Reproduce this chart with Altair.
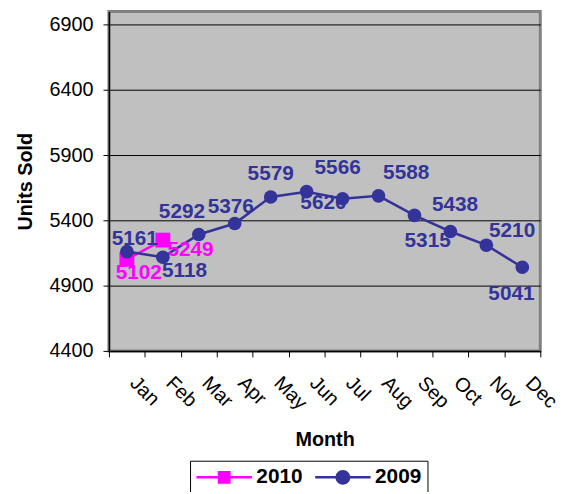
import altair as alt
import pandas as pd

months = ["Jan", "Feb", "Mar", "Apr", "May", "Jun", "Jul", "Aug", "Sep", "Oct", "Nov", "Dec"]
sales_2009 = [5161, 5118, 5292, 5376, 5579, 5620, 5566, 5588, 5438, 5315, 5210, 5041]
sales_2010 = [5102, 5249]
series = ["2010", "2009"]
series_colors = ["#FF00FF", "#333399"]
y_ticks = [4400, 4900, 5400, 5900, 6400, 6900]

# label placement (pixel offsets of each data label from its point) - styling only
offsets_2009 = [(8, -13), (22, 14), (-17, -23), (-4, -17), (0, -23), (17, 11),
                (-5, -31), (28, -23), (41, -10), (-23, 10), (26, -14), (-11, 27)]
offsets_2010 = [(12, 14), (28, 10)]

rows = []
for m, v in zip(months, sales_2010):
    rows.append({"month": m, "year": "2010", "value": v})
for m, v in zip(months, sales_2009):
    rows.append({"month": m, "year": "2009", "value": v})
df = pd.DataFrame(rows)

FONT = "Liberation Sans"

x_enc = alt.X(
    "month:N",
    sort=months,
    scale=alt.Scale(type="band", domain=months, paddingInner=0, paddingOuter=0),
    axis=alt.Axis(
        title="Month",
        labelAngle=45,
        labelAlign="left",
        labelBaseline="middle",
        labelPadding=23,
        labelOffset=6,
        tickBand="extent",
        titlePadding=17,
    ),
)
y_enc = alt.Y(
    "value:Q",
    scale=alt.Scale(domain=[4400, 7000], nice=False, zero=False),
    axis=alt.Axis(title="Units Sold", values=y_ticks, format="d", grid=True, gridColor="black",
                  gridWidth=1, labelPadding=10, titlePadding=14),
)

# legend glyphs: a line segment with the series marker (filled paths);
# the nominal symbol box is 20px (2 units), the glyph extends to the right over labelOffset
sq_path = "M-1,-0.125H4.6V0.125H-1Z M1.15,-0.65H2.45V0.65H1.15Z"
ci_path = "M-1,-0.125H4.6V0.125H-1Z M1.05,0A0.75,0.75 0 1,1 2.55,0A0.75,0.75 0 1,1 1.05,0Z"

legend = alt.Legend(
    title=None,
    orient="none",
    legendX=82,
    legendY=454,
    direction="horizontal",
    strokeColor="black",
    fillColor="white",
    padding=6,
    labelFontSize=21,
    labelFontWeight="bold",
    labelColor="black",
    labelFont=FONT,
    symbolSize=400,
    symbolOpacity=1,
    symbolStrokeWidth=0,
    columnPadding=12,
    labelOffset=40,
)

base = alt.Chart(df)

legend_layer = base.transform_filter("false").mark_point(filled=True, opacity=1).encode(
    x=x_enc, y=y_enc,
    color=alt.Color("year:N", scale=alt.Scale(domain=series, range=series_colors), legend=legend),
    shape=alt.Shape("year:N", scale=alt.Scale(domain=series, range=[sq_path, ci_path]), legend=legend),
)

line_2010 = base.transform_filter("datum.year == '2010'").mark_line(
    strokeWidth=2.5, color="#FF00FF"
).encode(x=x_enc, y=y_enc)
pts_2010 = base.transform_filter("datum.year == '2010'").mark_point(
    shape="square", filled=True, size=225, color="#FF00FF", opacity=1
).encode(x=x_enc, y=y_enc)
line_2009 = base.transform_filter("datum.year == '2009'").mark_line(
    strokeWidth=2.5, color="#333399"
).encode(x=x_enc, y=y_enc)
pts_2009 = base.transform_filter("datum.year == '2009'").mark_point(
    shape="circle", filled=True, size=190, color="#333399", opacity=1
).encode(x=x_enc, y=y_enc)

labels = []
for m, (dx, dy) in zip(months, offsets_2010):
    labels.append(
        base.transform_filter(f"datum.year == '2010' && datum.month == '{m}'")
        .mark_text(dx=dx, dy=dy, font=FONT, fontSize=21, fontWeight="bold", color="#FF00FF")
        .encode(x=x_enc, y=y_enc, text="value:Q")
    )
for m, (dx, dy) in zip(months, offsets_2009):
    labels.append(
        base.transform_filter(f"datum.year == '2009' && datum.month == '{m}'")
        .mark_text(dx=dx, dy=dy, font=FONT, fontSize=21, fontWeight="bold", color="#333399")
        .encode(x=x_enc, y=y_enc, text="value:Q")
    )

chart = alt.layer(legend_layer, line_2010, pts_2010, line_2009, *labels, pts_2009).properties(
    width=436,
    height=343,
    background="white",
    autosize=alt.AutoSizeParams(type="none"),
    padding={"left": 102, "top": 1, "right": 26, "bottom": 140},
).configure_view(
    fill="#C0C0C0", stroke="#808080", strokeWidth=3
).configure_axis(
    labelFont=FONT, titleFont=FONT, labelFontSize=20, titleFontSize=20,
    titleFontWeight="bold", labelColor="black", titleColor="black",
    tickColor="black", tickSize=6, domainColor="black", domainWidth=1.5,
)

chart.save("out.html", embed_options={"renderer": "svg", "actions": False})
